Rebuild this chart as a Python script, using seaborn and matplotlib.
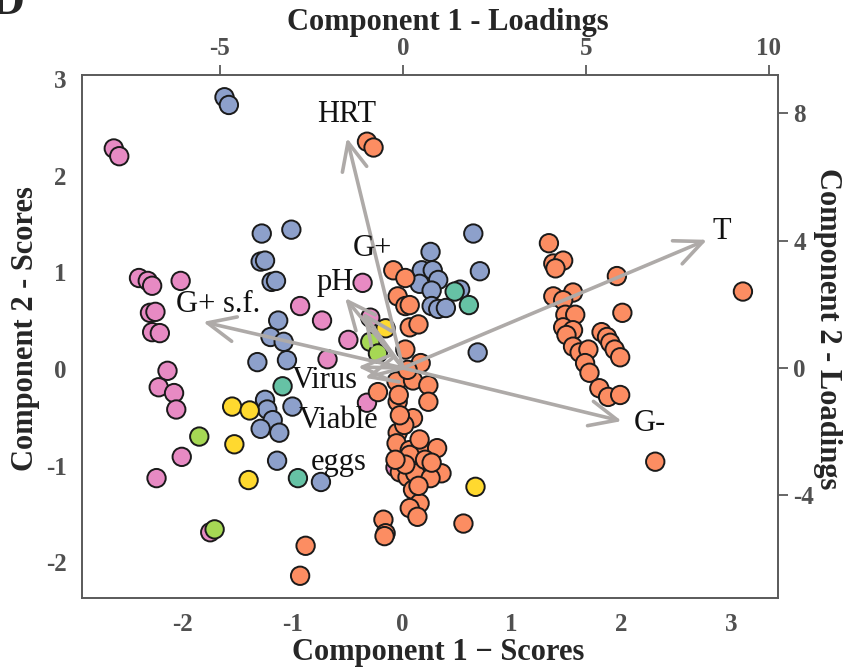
import matplotlib
matplotlib.use("Agg")
import matplotlib.pyplot as plt
import seaborn as sns
import pandas as pd

# ---- sample scores (component 1, component 2) per group ----
pink_pc1 = [-2.63, -2.58, -2.40, -2.32, -2.28, -2.02, -2.30, -2.25, -2.28, -2.21,
            -0.93, -0.73, -0.36, -0.49, -0.68, -0.29, -2.14, -2.22, -2.08, -2.06,
            -2.01, -2.24, -1.75, -0.32, -0.06]
pink_pc2 = [2.28, 2.20, 0.94, 0.91, 0.86, 0.91, 0.58, 0.59, 0.38, 0.37,
            0.65, 0.50, 0.89, 0.30, 0.10, 0.53, -0.02, -0.19, -0.25, -0.42,
            -0.91, -1.13, -1.69, -0.35, -1.02]

blue_pc1 = [-1.62, -1.58, -1.28, -1.01, -1.29, -1.25, -1.19, -1.15, -1.13, -1.20,
            -1.08, -1.32, -1.05, -1.25, -1.23, -1.00, -1.18, -1.29, -1.12, -1.14,
            -0.74, 0.26, 0.18, 0.28, 0.33, 0.16, 0.27, 0.53, 0.71, 0.27,
            0.33, 0.40, 0.65, 0.69]
blue_pc2 = [2.81, 2.73, 1.40, 1.44, 1.11, 1.12, 0.90, 0.91, 0.50, 0.33,
            0.28, 0.07, 0.09, -0.32, -0.42, -0.39, -0.53, -0.62, -0.66, -0.95,
            -1.17, 1.21, 1.02, 1.02, 0.92, 0.88, 0.81, 0.82, 1.01, 0.65,
            0.62, 0.63, 1.40, 0.17]

teal_pc1 = [-1.09, -0.95, 0.48, 0.61]
teal_pc2 = [-0.18, -1.13, 0.80, 0.66]

lime_pc1 = [-1.85, -1.71, -0.29, -0.22]
lime_pc2 = [-0.70, -1.66, 0.28, 0.16]

yellow_pc1 = [-1.55, -1.39, -1.53, -1.40, -0.15, 0.67]
yellow_pc2 = [-0.39, -0.43, -0.78, -1.15, 0.42, -1.22]

orange_pc1 = [-0.32, -0.26, 1.34, 1.38, 1.47, 1.40, 1.96, 3.11, 1.38, 1.56,
              1.47, 2.01, 1.49, 1.58, 1.47, 1.56, 1.50, 1.82, 1.87, 1.90,
              1.94, 1.99, 1.56, 1.62, 1.70, 1.67, 1.71, 1.80, 1.88, 1.99,
              2.31, -0.08, 0.03, -0.04, 0.03, 0.07, 0.07, 0.15, 0.03, 0.17,
              -0.22, -0.05, 0.10, 0.24, -0.04, -0.03, 0.24, 0.10, -0.04, -0.05,
              0.07, 0.19, 0.32, 0.07, -0.02, 0.05, 0.12, 0.36, 0.10, 0.16,
              0.07, 0.14, -0.17, -0.15, -0.16, 0.56, -0.88, -0.93, 0.03, 0.21,
              0.26, -0.06, 0.15, 0.16, 0.02, -0.02, 0.27, 0.05]
orange_pc2 = [2.35, 2.29, 1.30, 1.09, 1.12, 1.04, 0.96, 0.80, 0.75, 0.79,
              0.71, 0.58, 0.56, 0.56, 0.43, 0.40, 0.35, 0.38, 0.33, 0.27,
              0.20, 0.12, 0.23, 0.17, 0.20, 0.06, -0.04, -0.20, -0.29, -0.27,
              -0.96, 1.02, 0.94, 0.75, 0.65, 0.66, 0.43, 0.46, 0.20, 0.06,
              -0.24, -0.13, -0.12, -0.17, -0.34, -0.27, -0.34, -0.51, -0.66, -0.77,
              -0.84, -0.84, -0.82, -0.89, -1.07, -1.12, -1.08, -1.08, -1.25, -1.39,
              -1.44, -1.53, -1.56, -1.70, -1.73, -1.60, -1.83, -2.14, -0.99, -0.94,
              -1.13, -0.94, -1.21, -0.73, -0.58, -0.48, -0.97, -0.01]

# ---- variable loadings (component 1, component 2) ----
variables = ["HRT", "T", "G-", "G+ s.f.", "pH", "G+", "Virus", "Viable\neggs"]
load_pc1 = [-1.53, 8.31, 5.98, -5.46, -1.58, -1.10, -1.23, -1.04]
load_pc2 = [7.23, 4.03, -1.67, 1.45, 2.20, 1.75, 0.03, -0.31]

# label placement relative to arrow tips (pixels)
label_offsets = [(0, 23), (15, 8), (28, -2), (15, 17), (-10, 16), (10, 64), (-33, -13), (-26, -64)]

groups = [("pink", pink_pc1, pink_pc2), ("blue", blue_pc1, blue_pc2),
          ("teal", teal_pc1, teal_pc2), ("lime", lime_pc1, lime_pc2),
          ("yellow", yellow_pc1, yellow_pc2), ("orange", orange_pc1, orange_pc2)]
palette = {"pink": "#E78AC3", "blue": "#8DA0CB", "teal": "#66C2A5",
           "lime": "#A6D854", "yellow": "#FFD92F", "orange": "#FC8D62"}

df = pd.concat([pd.DataFrame({"PC1": x, "PC2": y, "group": g}) for g, x, y in groups],
               ignore_index=True)

sns.set_style("white")
plt.rcParams["font.family"] = ["Liberation Serif", "DejaVu Serif"]
plt.rcParams["axes.unicode_minus"] = False

W, H = 850, 670
fig = plt.figure(figsize=(W / 100, H / 100), dpi=100)
left, right, top, bottom = 82, 778, 75, 598
pos = [left / W, (H - bottom) / H, (right - left) / W, (bottom - top) / H]

ax = fig.add_axes(pos)
sns.scatterplot(data=df, x="PC1", y="PC2", hue="group", palette=palette, s=175,
                edgecolor="#1a1a1a", linewidth=1.4, legend=False, ax=ax, zorder=2)
ax.set_xlim(-2.92, 3.43)
ax.set_ylim(-2.37, 3.04)
ax.set_xticks([-2, -1, 0, 1, 2, 3])
ax.set_yticks([-2, -1, 0, 1, 2, 3])

# loadings axes sharing the same box
axl = fig.add_axes(pos, frameon=False)
axl.patch.set_alpha(0)
axl.set_xlim(-8.77, 10.25)
axl.set_ylim(-7.23, 9.21)
axl.xaxis.tick_top()
axl.yaxis.tick_right()
axl.xaxis.set_label_position("top")
axl.yaxis.set_label_position("right")
axl.set_xticks([-5, 0, 5, 10])
axl.set_yticks([-4, 0, 4, 8])

arrow_color = "#aeaaa8"
for name, lx, ly, off in zip(variables, load_pc1, load_pc2, label_offsets):
    axl.annotate("", xy=(lx, ly), xytext=(0, 0),
                 arrowprops=dict(arrowstyle="->,head_length=1.0,head_width=0.45",
                                 mutation_scale=20, color=arrow_color, lw=2.6,
                                 shrinkA=0, shrinkB=0), zorder=3)
    axl.annotate(name, xy=(lx, ly), xytext=off, textcoords="offset pixels",
                 ha="center", va="center", fontsize=22, color="#111111",
                 linespacing=1.6, zorder=4)

spine_color = "#5a5a5a"
tick_color = "#505050"
for a in (ax, axl):
    for sp in a.spines.values():
        sp.set_color(spine_color)
        sp.set_linewidth(1.4)
    a.tick_params(direction="out", length=7, width=1.3, color=spine_color,
                  labelsize=18, labelcolor=tick_color, pad=4)
    for lab in a.get_xticklabels() + a.get_yticklabels():
        lab.set_fontweight("bold")
ax.tick_params(top=False, right=False)
axl.tick_params(bottom=False, left=False)

ax.set_xlabel("Component 1 \u2212 Scores", fontsize=22, fontweight="bold", labelpad=1)
ax.set_ylabel("Component 2 - Scores", fontsize=22, fontweight="bold", labelpad=4)
axl.set_xlabel("Component 1 - Loadings", fontsize=22, fontweight="bold", labelpad=5)
axl.set_ylabel("Component 2 - Loadings", fontsize=22, fontweight="bold",
               rotation=270, labelpad=20)
ax.xaxis.label.set_x(0.512)
axl.xaxis.label.set_x(0.526)
ax.yaxis.label.set_y(0.515)
axl.yaxis.label.set_y(0.515)

fig.text(-0.012, 0.995, "D", fontsize=34, fontweight="bold", ha="left", va="center")

fig.savefig("out.png", dpi=100)
